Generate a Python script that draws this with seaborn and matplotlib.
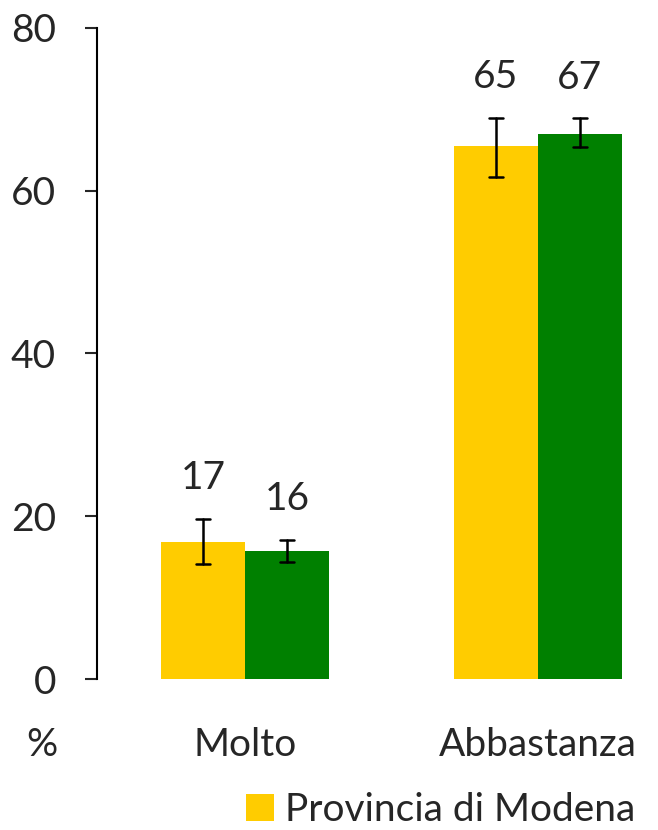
import pandas as pd
import seaborn as sns
import matplotlib.pyplot as plt

# Dati
categorie = ['Molto', 'Abbastanza']
serie = ['Provincia di Modena', 'Emilia-Romagna']
valori_modena = [16.8, 65.5]
valori_regione = [15.7, 67.0]
err_basso_modena = [14.1, 61.7]
err_alto_modena = [19.7, 69.0]
err_basso_regione = [14.4, 65.4]
err_alto_regione = [17.1, 68.9]
etichette_modena = ['17', '65']
etichette_regione = ['16', '67']

df = pd.DataFrame({
    'categoria': categorie * 2,
    'serie': [serie[0]] * 2 + [serie[1]] * 2,
    'valore': valori_modena + valori_regione,
})

sns.set_style('white')
plt.rcParams['font.family'] = ['Lato', 'DejaVu Sans']

fig = plt.figure(figsize=(6.58, 8.3), dpi=100)
ax = fig.add_axes([97 / 658, 1 - 679 / 830, (658 - 97) / 658, (679 - 28) / 830])

sns.barplot(data=df, x='categoria', y='valore', hue='serie',
            palette=['#FFCC00', '#008000'], width=0.573, saturation=1,
            errorbar=None, linewidth=0, ax=ax)

bassi = err_basso_modena + err_basso_regione
alti = err_alto_modena + err_alto_regione
etichette = etichette_modena + etichette_regione
for p, b, a, t in zip(ax.patches[:4], bassi, alti, etichette):
    xc = p.get_x() + p.get_width() / 2
    ax.plot([xc, xc], [b, a], color='black', lw=1.8)
    ax.plot([xc - 0.024, xc + 0.024], [b, b], color='black', lw=1.8)
    ax.plot([xc - 0.024, xc + 0.024], [a, a], color='black', lw=1.8)
    ax.text(xc, a + 5.0, t, ha='center', va='center', fontsize=28)

ax.set_ylim(0, 80)
ax.set_yticks([0, 20, 40, 60, 80])
ax.set_xlim(-0.505, 1.41)
ax.set_xlabel('')
ax.set_ylabel('')
for s in ['top', 'right', 'bottom']:
    ax.spines[s].set_visible(False)
ax.spines['left'].set_color('black')
ax.spines['left'].set_linewidth(1.5)
ax.tick_params(axis='y', left=True, length=8.6, width=1.5, labelsize=28, pad=21)
ax.tick_params(axis='x', bottom=False, labelsize=28, pad=31)

fig.text(42 / 658, 1 - 745 / 830, '%', fontsize=28, ha='center', va='center')

handles, labels = ax.get_legend_handles_labels()
ax.legend(handles[:1], labels[:1], loc='center right',
          bbox_to_anchor=(655 / 658, 1 - 810 / 830), bbox_transform=fig.transFigure,
          frameon=False, fontsize=28, handlelength=0.7, handleheight=0.7,
          handletextpad=0.3, borderpad=0)

fig.savefig('out.png', dpi=100)
